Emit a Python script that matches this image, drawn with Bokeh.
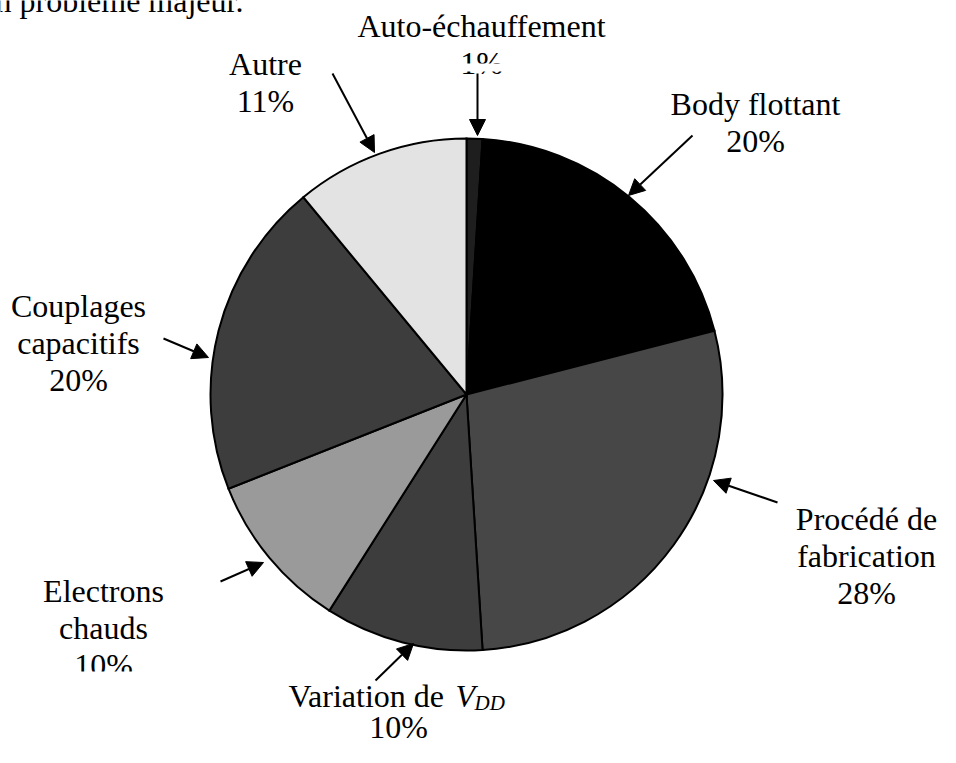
import numpy as np
from bokeh.plotting import figure
from bokeh.models import Range1d, ColumnDataSource, Arrow, NormalHead
from bokeh.core.properties import value
from bokeh.embed import file_html
from bokeh.resources import INLINE

# ---- data ----
categories = ["Auto-échauffement", "Body flottant", "Procédé de fabrication",
              "Variation de VDD", "Electrons chauds", "Couplages capacitifs", "Autre"]
percent = [1, 20, 28, 10, 10, 20, 11]
colors = ["#1e1e1e", "#000000", "#474747", "#3d3d3d", "#9a9a9a", "#3d3d3d", "#e3e3e3"]
pct_labels = [f"{v}%" for v in percent]

# ---- layout ----
W, H = 940, 747
CX, CY, R = 466, 394, 256
FONT = "Liberation Serif"
FS = 32
LS = 37
TDY = 10   # baseline correction for text placement

def Y(v):
    return -v

def TY(v):
    return -(v - TDY)

p = figure(width=W, height=H, x_range=Range1d(0, W), y_range=Range1d(-H, 0),
           output_backend="svg", toolbar_location=None, min_border=0)
p.axis.visible = False
p.grid.visible = False
p.outline_line_color = None
p.background_fill_color = "white"
p.border_fill_color = "white"

frac = np.array(percent, dtype=float) / sum(percent)
cum = np.concatenate([[0.0], np.cumsum(frac)])
start = np.pi / 2 - 2 * np.pi * cum[:-1]
end = np.pi / 2 - 2 * np.pi * cum[1:]
src = ColumnDataSource(dict(start=start, end=end, color=colors, cat=categories))
p.wedge(x=CX, y=Y(CY), radius=R, start_angle="start", end_angle="end", direction="clock",
        fill_color="color", line_color="black", line_width=2, line_join="miter", source=src)

# label blocks: (lines, center x, first baseline)
blocks = [
    (["Auto-échauffement", pct_labels[0]], 481, 35),
    (["Body flottant", pct_labels[1]], 755, 113),
    (["Procédé de", "fabrication", pct_labels[2]], 866, 528),
    (["Electrons", "chauds", pct_labels[4]], 103, 600),
    (["Couplages", "capacitifs", pct_labels[5]], 78, 315),
    (["Autre", pct_labels[6]], 265, 73),
]
tx, ty, tt = [], [], []
for lines, cx, b in blocks:
    for i, s in enumerate(lines):
        tx.append(cx); ty.append(TY(b + i * LS)); tt.append(s)
# Variation percentage line
VB = 705
tx.append(398); ty.append(TY(VB + 31)); tt.append(pct_labels[3])

tsrc = ColumnDataSource(dict(x=tx, y=ty, text=tt))
p.text(x="x", y="y", text="text", source=tsrc, text_font=value(FONT), text_font_size=f"{FS}px",
       text_align="center", text_baseline="alphabetic", text_color="black")

# Variation de V_DD (composite)
p.text(x=[288], y=[TY(VB)], text=["Variation de "], text_font=value(FONT), text_font_size=f"{FS}px",
       text_align="left", text_baseline="alphabetic", text_color="black")
p.text(x=[455], y=[TY(VB)], text=["V"], text_font=value(FONT), text_font_size=f"{FS}px",
       text_font_style="italic", text_align="left", text_baseline="alphabetic", text_color="black")
p.text(x=[474], y=[TY(VB + 7)], text=["DD"], text_font=value(FONT), text_font_size="21px",
       text_font_style="italic", text_align="left", text_baseline="alphabetic", text_color="black")

# masks reproducing the clipped text boxes of the original
p.quad(left=[440, 60], right=[525, 150], top=[Y(63), Y(671)], bottom=[Y(71), Y(688)],
       fill_color="white", line_color=None)

# top page text (clipped)
p.text(x=[-21], y=[TY(10)], text=["un problème majeur."], text_font=value(FONT),
       text_font_size=f"{FS}px", text_align="left", text_baseline="alphabetic", text_color="black")

# arrows (tail -> tip)
arrows = [
    (477, 73, 477, 135),
    (692, 135, 628, 195),
    (777, 502, 713, 480),
    (375, 680, 413, 643),
    (220, 581, 263, 562),
    (163, 338, 208, 357),
    (332, 73, 374, 152),
]
asrc = ColumnDataSource(dict(
    x0=[a[0] for a in arrows], y0=[Y(a[1]) for a in arrows],
    x1=[a[2] for a in arrows], y1=[Y(a[3]) for a in arrows]))
p.add_layout(Arrow(end=NormalHead(size=16, fill_color="black", line_color="black", line_width=1),
                   x_start="x0", y_start="y0", x_end="x1", y_end="y1",
                   line_color="black", line_width=2, source=asrc))

open("out.html", "w").write(file_html(p, INLINE))
